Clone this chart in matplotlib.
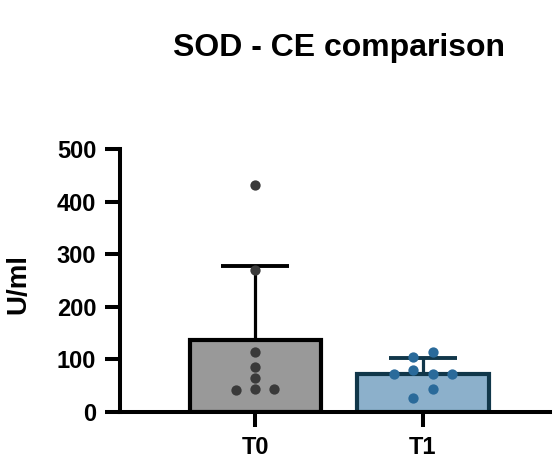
import matplotlib
matplotlib.use('Agg')
import matplotlib.pyplot as plt
import numpy as np

plt.rcParams['font.family'] = ['Liberation Sans', 'DejaVu Sans']
plt.rcParams['font.weight'] = 'bold'

# Data (U/ml)
groups = ['T0', 'T1']
t0_values = [431, 270, 115, 86, 65, 43, 41, 44]
t1_values = [115, 105, 73, 79, 72, 72, 43, 26]

# horizontal scatter of the dots inside each bar (layout only)
t0_jitter = [0, 0, 0, 0, 0, 0, -0.113, 0.113]
t1_jitter = [0.057, -0.057, -0.17, -0.057, 0.057, 0.17, 0.057, -0.057]

fill_colors = ['#999999', '#8cb0cb']
edge_colors = ['#000000', '#11374a']
dot_colors = ['#3a3a3a', '#2a6a9a']

fig = plt.figure(figsize=(5.57, 4.61), dpi=100)
ax = fig.add_axes([0.2154, 0.1063, 0.772, 0.5705])

all_values = [t0_values, t1_values]
all_jitter = [t0_jitter, t1_jitter]
x = np.arange(len(groups))

for i, vals in enumerate(all_values):
    vals = np.array(vals, dtype=float)
    mean = vals.mean()
    sd = vals.std(ddof=1)
    ax.bar(x[i], mean, width=0.78, color=fill_colors[i],
           edgecolor=edge_colors[i], linewidth=3, zorder=2)
    ax.errorbar(x[i], mean, yerr=[[0], [sd]], fmt='none',
                ecolor=edge_colors[i], elinewidth=2.3, capsize=24.5,
                capthick=2.8, zorder=3)
    ax.scatter(x[i] + np.array(all_jitter[i]), vals, s=55,
               color=dot_colors[i], zorder=4, linewidths=0)

ax.set_xlim(-0.804, 1.756)
ax.set_ylim(0, 500)
ax.set_yticks([0, 100, 200, 300, 400, 500])
ax.set_xticks(x)
ax.set_xticklabels(groups)

for side in ['top', 'right']:
    ax.spines[side].set_visible(False)
for side in ['left', 'bottom']:
    ax.spines[side].set_linewidth(2.9)
    ax.spines[side].set_capstyle('projecting')

ax.tick_params(axis='both', length=11, width=2.9, labelsize=17, pad=6)
for lab in ax.get_xticklabels() + ax.get_yticklabels():
    lab.set_fontweight('bold')

ax.set_ylabel('U/ml', fontsize=20, fontweight='bold')
ax.yaxis.set_label_coords(-0.205, 0.487)

fig.text(0.609, 1 - 56 / 461, 'SOD - CE comparison', ha='center',
         va='baseline', fontsize=23, fontweight='bold')

fig.savefig('out.png', dpi=100, facecolor='white')
